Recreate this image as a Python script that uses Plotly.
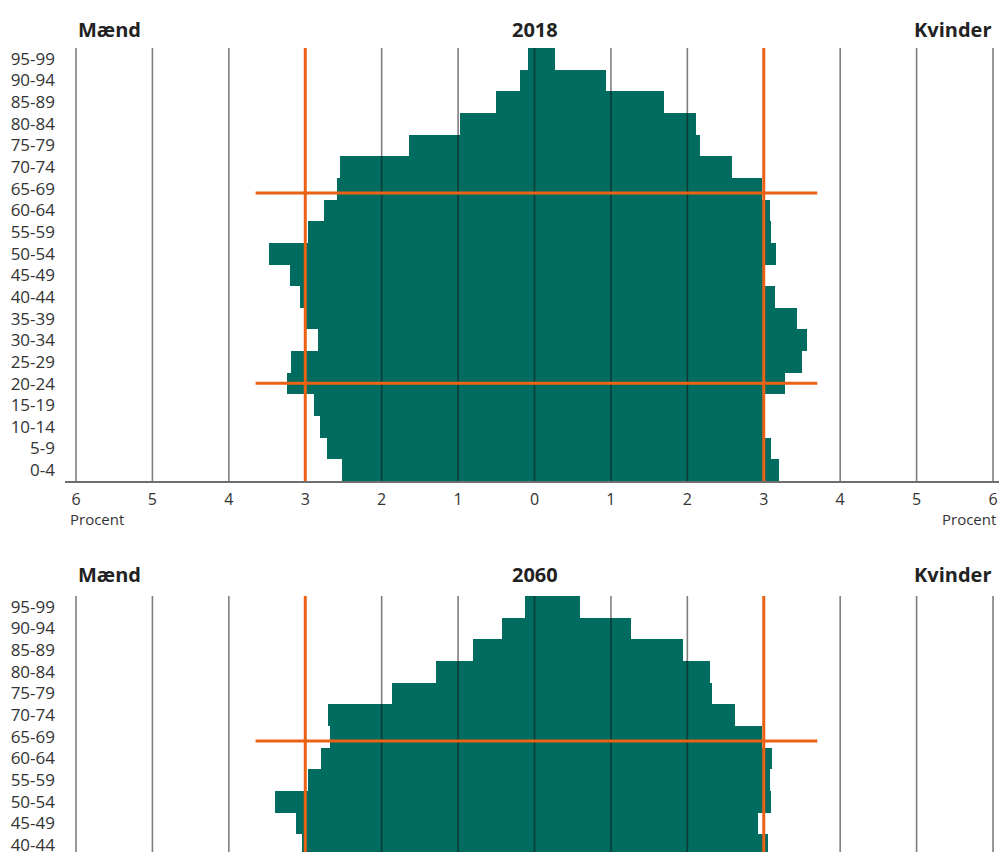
import plotly.graph_objects as go
from plotly.subplots import make_subplots

# ---------------- data ----------------
age_groups = ["0-4", "5-9", "10-14", "15-19", "20-24", "25-29", "30-34", "35-39",
              "40-44", "45-49", "50-54", "55-59", "60-64", "65-69", "70-74",
              "75-79", "80-84", "85-89", "90-94", "95-99"]
age_mid = [2.5, 7.5, 12.5, 17.5, 22.5, 27.5, 32.5, 37.5, 42.5, 47.5,
           52.5, 57.5, 62.5, 67.5, 72.5, 77.5, 82.5, 87.5, 92.5, 97.5]

# 2018, percent of population, ages 0-4 ... 95-99
men_2018 = [2.52, 2.71, 2.81, 2.88, 3.24, 3.19, 2.83, 3.01, 3.07, 3.20,
            3.48, 2.97, 2.76, 2.58, 2.54, 1.64, 0.97, 0.51, 0.19, 0.08]
women_2018 = [3.20, 3.09, 2.99, 2.99, 3.28, 3.50, 3.56, 3.43, 3.15, 2.99,
              3.16, 3.10, 3.08, 2.98, 2.58, 2.17, 2.11, 1.70, 0.93, 0.27]

# 2060 (only ages 40-44 ... 95-99 visible in the picture)
age_mid_2060 = [42.5, 47.5, 52.5, 57.5, 62.5, 67.5, 72.5, 77.5, 82.5, 87.5, 92.5, 97.5]
men_2060 = [3.04, 3.12, 3.40, 2.97, 2.80, 2.68, 2.70, 1.86, 1.29, 0.81, 0.43, 0.13]
women_2060 = [3.05, 2.92, 3.10, 3.08, 3.11, 2.98, 2.63, 2.32, 2.29, 1.94, 1.26, 0.59]

x_ticks = [-6, -5, -4, -3, -2, -1, 0, 1, 2, 3, 4, 5, 6]
x_ticktext = ["6", "5", "4", "3", "2", "1", "0", "1", "2", "3", "4", "5", "6"]

ref_x = [-3.0, 3.0]           # vertical reference lines (percent)
ref_age_2018 = [66.5, 22.6]   # horizontal reference lines (age)
ref_age_2060 = [66.5]
ref_span = [-3.65, 3.70]

years = ["2018", "2060"]

# ---------------- style ----------------
GREEN = "#006b5f"
ORANGE = "#ea6314"
GRID = "rgba(20,20,20,0.55)"
FONT = "Open Sans"

OFF = 8                      # default page body margin
PAGE_BOTTOM = 864            # figure continues a little below the visible window
W, H = 1007 - OFF, PAGE_BOTTOM - OFF


def py(p):
    """page pixel y -> paper fraction"""
    return 1 - (p - OFF) / H


fig = make_subplots(rows=2, cols=1, vertical_spacing=0.0)

fig.add_trace(go.Bar(y=age_mid, x=[-v for v in men_2018], orientation="h", width=5,
                     marker=dict(color=GREEN, line=dict(width=0)), showlegend=False), row=1, col=1)
fig.add_trace(go.Bar(y=age_mid, x=women_2018, orientation="h", width=5,
                     marker=dict(color=GREEN, line=dict(width=0)), showlegend=False), row=1, col=1)
fig.add_trace(go.Bar(y=age_mid_2060, x=[-v for v in men_2060], orientation="h", width=5,
                     marker=dict(color=GREEN, line=dict(width=0)), showlegend=False), row=2, col=1)
fig.add_trace(go.Bar(y=age_mid_2060, x=women_2060, orientation="h", width=5,
                     marker=dict(color=GREEN, line=dict(width=0)), showlegend=False), row=2, col=1)

x_range = [-6.144, 6.183]

top_dom = [py(481), py(48)]
bot_dom = [0, py(596)]
bot_ymin = 100 - (PAGE_BOTTOM - 596) / 21.65 * 5

fig.update_layout(
    width=W, height=H,
    margin=dict(l=65 - OFF, r=0, t=0, b=0),
    paper_bgcolor="white", plot_bgcolor="white",
    barmode="overlay", bargap=0,
    font=dict(family=FONT, color="#333333"),
    xaxis=dict(range=x_range, domain=[0, 1], tickvals=x_ticks, ticktext=x_ticktext,
               showgrid=False, zeroline=False, showline=True, linecolor="#6e6e6e", linewidth=2,
               ticks="", ticklabelstandoff=3, tickfont=dict(size=16, family=FONT, color="#333")),
    yaxis=dict(range=[0, 100], domain=top_dom, tickvals=age_mid, ticktext=age_groups,
               showgrid=False, zeroline=False, showline=False, ticks="",
               ticklabelstandoff=9, tickfont=dict(size=17, family=FONT, color="#333")),
    xaxis2=dict(range=x_range, domain=[0, 1], showticklabels=False, showgrid=False,
                zeroline=False, showline=False, ticks=""),
    yaxis2=dict(range=[bot_ymin, 100], domain=bot_dom, tickvals=age_mid, ticktext=age_groups,
                showgrid=False, zeroline=False, showline=False, ticks="",
                ticklabelstandoff=9, tickfont=dict(size=17, family=FONT, color="#333")),
)

# grid lines drawn above bars
for xr, yr, y0 in [("x", "y", 0), ("x2", "y2", bot_ymin)]:
    for t in x_ticks:
        fig.add_shape(type="line", xref=xr, yref=yr, x0=t, x1=t, y0=y0, y1=100,
                      line=dict(color=GRID, width=1.6), layer="above")


# reference lines
def add_refs(xr, yr, y0, ages):
    for a in ages:
        fig.add_shape(type="line", xref=xr, yref=yr, x0=ref_span[0], x1=ref_span[1], y0=a, y1=a,
                      line=dict(color=ORANGE, width=3), layer="above")
    for rx in ref_x:
        fig.add_shape(type="line", xref=xr, yref=yr, x0=rx, x1=rx, y0=y0, y1=100,
                      line=dict(color=ORANGE, width=3), layer="above")


add_refs("x", "y", 0, ref_age_2018)
add_refs("x2", "y2", bot_ymin, ref_age_2060)

# titles
for yc, yr_label in [(py(29), years[0]), (py(574), years[1])]:
    for txt, xv, anc in [("Mænd", -6, "left"), (yr_label, 0, "center"), ("Kvinder", 6, "right")]:
        fig.add_annotation(text="<b>%s</b>" % txt, xref="x", yref="paper", x=xv, y=yc,
                           xanchor=anc, yanchor="middle", showarrow=False,
                           font=dict(size=20, family=FONT, color="#222"))

for xv, anc in [(0.003, "left"), ((998 - 65) / 942, "right")]:
    fig.add_annotation(text="Procent", xref="paper", yref="paper", x=xv, y=py(519),
                       xanchor=anc, yanchor="middle", showarrow=False,
                       font=dict(size=15, family=FONT, color="#333"))

fig.write_html("out.html")
